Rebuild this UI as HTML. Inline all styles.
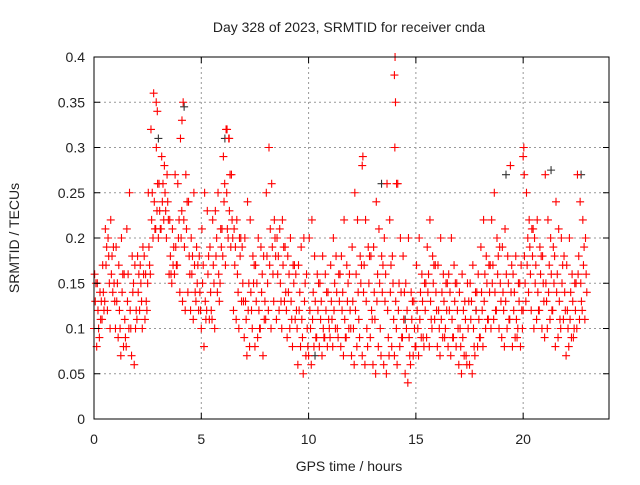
<!DOCTYPE html>
<html><head><meta charset="utf-8"><style>
body{margin:0;background:#fff}
svg text{font-family:"Liberation Sans",sans-serif;font-size:14px;fill:#222}
</style></head><body>
<svg id="chart" width="640" height="480" viewBox="0 0 640 480" xmlns="http://www.w3.org/2000/svg">
<rect width="640" height="480" fill="#fff"/>
<text x="349" y="32" text-anchor="middle">Day 328 of 2023, SRMTID for receiver cnda</text>
<text x="349" y="471" text-anchor="middle">GPS time / hours</text>
<text transform="translate(19,238) rotate(-90)" text-anchor="middle">SRMTID / TECUs</text>
<g id="grid"></g>
<g id="marks"></g>
<rect x="94" y="57" width="515" height="362" fill="none" stroke="#000" stroke-width="1"/>
<g id="ticks"></g>
</svg>
<script>
const xTicks=[0,5,10,15,20];
const yTicks=[0,0.05,0.1,0.15,0.2,0.25,0.3,0.35,0.4];
const yTickLabels=["0","0.05","0.1","0.15","0.2","0.25","0.3","0.35","0.4"];
const times=[0,0.125,0.25,0.375,0.5,0.625,0.75,0.875,1,1.125,1.25,1.375,1.5,1.625,1.75,1.875,2,2.125,2.25,2.375,2.5,2.625,2.75,2.875,3,3.125,3.25,3.375,3.5,3.625,3.75,3.875,4,4.125,4.25,4.375,4.5,4.625,4.75,4.875,5,5.125,5.25,5.375,5.5,5.625,5.75,5.875,6,6.125,6.25,6.375,6.5,6.625,6.75,6.875,7,7.125,7.25,7.375,7.5,7.625,7.75,7.875,8,8.125,8.25,8.375,8.5,8.625,8.75,8.875,9,9.125,9.25,9.375,9.5,9.625,9.75,9.875,10,10.125,10.25,10.375,10.5,10.625,10.75,10.875,11,11.125,11.25,11.375,11.5,11.625,11.75,11.875,12,12.125,12.25,12.375,12.5,12.625,12.75,12.875,13,13.125,13.25,13.375,13.5,13.625,13.75,13.875,14,14.125,14.25,14.375,14.5,14.625,14.75,14.875,15,15.125,15.25,15.375,15.5,15.625,15.75,15.875,16,16.125,16.25,16.375,16.5,16.625,16.75,16.875,17,17.125,17.25,17.375,17.5,17.625,17.75,17.875,18,18.125,18.25,18.375,18.5,18.625,18.75,18.875,19,19.125,19.25,19.375,19.5,19.625,19.75,19.875,20,20.125,20.25,20.375,20.5,20.625,20.75,20.875,21,21.125,21.25,21.375,21.5,21.625,21.75,21.875,22,22.125,22.25,22.375,22.5,22.625,22.75,22.875];
const lowVals=[.10,.08,.09,.11,.13,.12,.10,.14,.10,.09,.07,.08,.08,.10,.07,.06,.11,.12,.10,.11,.15,.16,.20,.21,.20,.21,.22,.20,.16,.15,.16,.17,.14,.13,.12,.14,.12,.11,.13,.12,.10,.08,.12,.11,.11,.10,.14,.15,.18,.17,.20,.19,.12,.11,.10,.13,.09,.07,.08,.10,.08,.09,.10,.07,.11,.12,.10,.13,.11,.12,.10,.13,.09,.10,.08,.11,.06,.08,.05,.07,.07,.06,.08,.09,.08,.07,.09,.08,.09,.08,.10,.09,.08,.07,.09,.10,.07,.06,.08,.09,.07,.06,.08,.09,.06,.05,.08,.07,.06,.05,.07,.08,.07,.06,.08,.09,.05,.04,.06,.07,.08,.07,.09,.08,.09,.08,.10,.11,.08,.07,.09,.10,.08,.07,.09,.08,.06,.05,.07,.06,.06,.05,.07,.08,.09,.08,.10,.11,.10,.11,.12,.10,.09,.08,.10,.11,.08,.09,.10,.08,.12,.13,.14,.12,.10,.11,.12,.10,.09,.10,.11,.12,.08,.09,.10,.11,.07,.08,.09,.10,.10,.11,.12,.11];
const midVals=[.13,.12,.11,.14,.17,.18,.16,.15,.13,.12,.14,.11,.13,.12,.14,.10,.14,.15,.16,.13,.19,.22,.24,.23,.23,.24,.25,.24,.18,.17,.19,.20,.20,.22,.21,.18,.16,.17,.15,.14,.15,.13,.16,.14,.17,.18,.16,.19,.24,.25,.23,.22,.17,.16,.18,.15,.13,.12,.14,.15,.13,.12,.14,.11,.18,.17,.19,.20,.16,.15,.17,.14,.14,.13,.15,.12,.12,.11,.13,.10,.12,.11,.13,.12,.11,.10,.12,.11,.13,.12,.14,.13,.12,.11,.13,.12,.13,.12,.14,.15,.14,.13,.15,.12,.14,.13,.15,.14,.13,.12,.14,.15,.13,.12,.14,.11,.10,.09,.11,.10,.12,.11,.13,.12,.14,.13,.15,.14,.12,.11,.13,.12,.12,.11,.13,.12,.10,.09,.11,.10,.11,.10,.12,.11,.14,.13,.15,.14,.15,.14,.16,.15,.14,.13,.15,.14,.12,.11,.13,.12,.18,.17,.19,.18,.15,.14,.16,.15,.15,.14,.16,.15,.14,.13,.15,.14,.12,.11,.13,.12,.16,.15,.17,.16];
const altVals=[.15,.10,.13,.12,.19,.15,.18,.13,.15,.10,.16,.09,.16,.10,.15,.12,.16,.13,.18,.12,.17,.25,.21,.26,.21,.26,.23,.22,.16,.19,.17,.22,.23,.19,.24,.16,.18,.14,.17,.12,.17,.11,.18,.12,.15,.20,.13,.21,.26,.21,.27,.20,.19,.14,.20,.13,.11,.15,.12,.17,.15,.10,.16,.13,.15,.21,.16,.18,.18,.13,.19,.12,.16,.11,.17,.10,.14,.09,.15,.08,.10,.14,.09,.15,.13,.09,.14,.10,.11,.15,.10,.16,.14,.09,.15,.10,.10,.16,.11,.17,.17,.10,.18,.11,.11,.16,.10,.17,.16,.09,.17,.11,.10,.15,.09,.14,.12,.07,.13,.08,.10,.14,.09,.15,.16,.11,.17,.12,.10,.14,.09,.15,.14,.09,.15,.10,.08,.12,.07,.13,.13,.08,.14,.09,.12,.16,.11,.17,.17,.12,.18,.13,.12,.16,.11,.17,.14,.09,.15,.10,.15,.20,.16,.21,.17,.12,.18,.13,.13,.17,.12,.18,.16,.11,.17,.12,.10,.14,.09,.15,.18,.13,.19,.14];
const highVals=[.16,.15,.14,.17,.21,.20,.22,.19,.19,.17,.20,.16,.21,.25,.18,.17,.18,.17,.19,.16,.25,.32,.36,.30,.26,.29,.28,.27,.22,.21,.27,.26,.31,.35,.27,.24,.20,.25,.19,.18,.21,.25,.23,.19,.22,.23,.25,.21,.29,.32,.31,.27,.21,.22,.20,.19,.20,.24,.22,.18,.17,.20,.19,.18,.25,.30,.26,.22,.20,.21,.22,.19,.18,.20,.17,.16,.17,.19,.20,.16,.20,.22,.18,.16,.15,.18,.16,.14,.17,.20,.18,.16,.18,.22,.17,.16,.19,.25,.22,.18,.29,.22,.19,.18,.19,.24,.21,.18,.20,.26,.22,.18,.40,.26,.20,.18,.15,.20,.14,.13,.17,.20,.16,.15,.19,.22,.18,.17,.17,.20,.16,.15,.16,.20,.17,.15,.14,.16,.13,.15,.15,.17,.14,.16,.19,.22,.18,.17,.22,.25,.20,.19,.19,.21,.18,.28,.16,.18,.15,.17,.30,.25,.22,.21,.20,.22,.19,.18,.27,.22,.20,.19,.24,.21,.20,.18,.17,.20,.16,.15,.27,.24,.22,.20];
const spikeTimes=[14.0,14.05,14.02,14.1,2.9,2.95,4.1,6.2,6.3,12.5,20.0,20.05];
const spikeVals=[0.38,0.35,0.30,0.26,0.35,0.34,0.33,0.32,0.31,0.28,0.29,0.27];
const blackTimes=[4.2,6.1,13.4,19.2,21.3,14.5,17.8,10.3,3.0,22.7];
const blackVals=[0.345,0.31,0.26,0.27,0.275,0.11,0.12,0.07,0.31,0.27];

const X0=94,X1=609,Y0=419,Y1=57;
const xs=t=>X0+t/24*(X1-X0);
const ys=v=>Y0-v/0.4*(Y0-Y1);
const NS="http://www.w3.org/2000/svg";
const grid=document.getElementById('grid'),ticks=document.getElementById('ticks'),marks=document.getElementById('marks');
function mk(tag,attrs,parent){const e=document.createElementNS(NS,tag);for(const k in attrs)e.setAttribute(k,attrs[k]);parent.appendChild(e);return e;}
xTicks.forEach(t=>{
  const x=xs(t);
  if(t>0){const g=mk('line',{x1:x,x2:x,y1:Y1,y2:Y0,stroke:'#999','stroke-dasharray':'2,3'},grid);
  
  }
  const tk=mk('path',{d:`M${x} ${Y0}v-6M${x} ${Y1}v6`,stroke:'#000'},ticks);
  
  
  const l=mk('text',{x:x,y:Y0+25,'text-anchor':'middle'},ticks);l.textContent=String(t);
  
  
});
yTicks.forEach((v,i)=>{
  const y=ys(v);
  if(v>0&&v<0.4){const g=mk('line',{x1:X0,x2:X1,y1:y,y2:y,stroke:'#999','stroke-dasharray':'2,3'},grid);
  
  }
  const tk=mk('path',{d:`M${X0} ${y}h6M${X1} ${y}h-6`,stroke:'#000'},ticks);
  
  
  const l=mk('text',{x:X0-9,y:y+5,'text-anchor':'end'},ticks);l.textContent=yTickLabels[i];
  
  
});
function plus(t,v,color){
  const x=xs(t),y=ys(v);
  const p=mk('path',{d:`M${x-4} ${y}h8M${x} ${y-4}v8`,stroke:color,'stroke-width':1.1},marks);
  
  
}
blackTimes.forEach((t,i)=>plus(t,blackVals[i],'#333'));
times.forEach((t,i)=>{
  plus(t,lowVals[i],'#f00');
  plus(t+0.06,midVals[i],'#f00');
  plus(t+0.09,altVals[i],'#f00');
  plus(t+0.03,highVals[i],'#f00');
});
spikeTimes.forEach((t,i)=>plus(t,spikeVals[i],'#f00'));
</script>
</body></html>
